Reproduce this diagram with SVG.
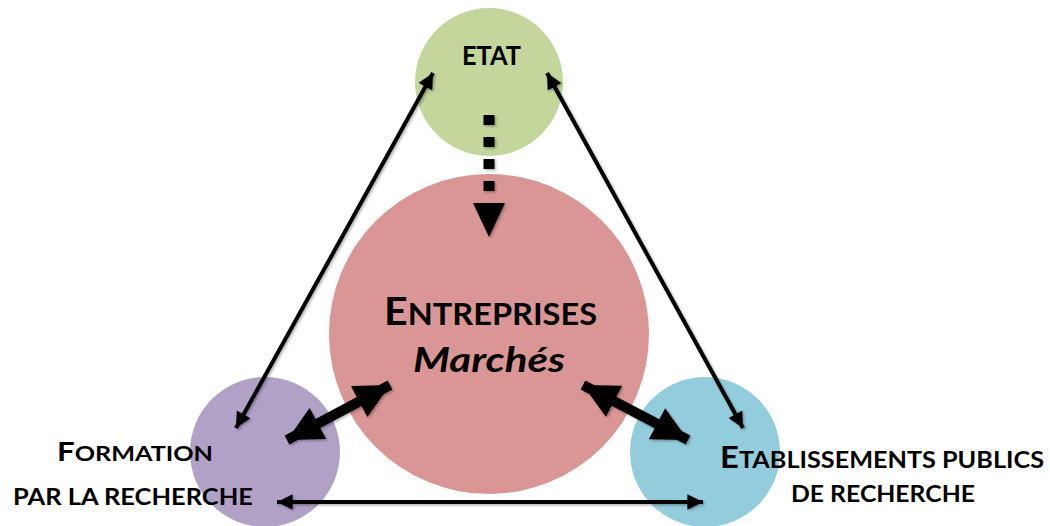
<svg xmlns="http://www.w3.org/2000/svg" width="1050" height="526" viewBox="0 0 1050 526">
<defs>
<style>
.t{font-family:Lato,"Open Sans","Liberation Sans",sans-serif;font-weight:bold;fill:#000}
.thin{stroke:#000;stroke-width:4;fill:none;marker-start:url(#ah);marker-end:url(#ah)}
.thick{stroke:#000;stroke-width:10;fill:none;marker-start:url(#ahb);marker-end:url(#ahb)}
</style>
<marker id="ah" viewBox="0 0 10 10" refX="10" refY="5" markerWidth="5" markerHeight="3.9" orient="auto-start-reverse" markerUnits="strokeWidth">
<path d="M0,0 L10,5 L0,10 z" fill="#000"/>
</marker>
<marker id="ahb" viewBox="0 0 10 10" refX="10" refY="5" markerWidth="3.6" markerHeight="3.5" orient="auto-start-reverse" markerUnits="strokeWidth">
<path d="M0,0 L10,5 L0,10 z" fill="#000"/>
</marker>
<filter id="sh" x="-20%" y="-20%" width="140%" height="140%">
<feDropShadow dx="1.5" dy="1.5" stdDeviation="1.2" flood-color="#000" flood-opacity="0.3"/>
</filter>
</defs>
<rect width="1050" height="526" fill="#fff"/>
<g id="etat">
<circle cx="489" cy="82" r="74" fill="#c3d69b"/>
<text class="t" x="462" y="65" font-size="26" textLength="59" lengthAdjust="spacingAndGlyphs">ETAT</text>
</g>
<g id="entreprises">
<circle cx="489" cy="334" r="160" fill="#d99694"/>
<text class="t" x="384" y="325" font-size="30" textLength="213" lengthAdjust="spacingAndGlyphs"><tspan font-size="38">E</tspan>NTREPRISES</text>
<text class="t" x="413" y="372" font-size="35" font-style="italic" textLength="152" lengthAdjust="spacingAndGlyphs">Marchés</text>
</g>
<g id="formation">
<circle cx="265" cy="452" r="75" fill="#b2a1c7"/>
<text class="t" x="57" y="461" font-size="21" textLength="156" lengthAdjust="spacingAndGlyphs"><tspan font-size="26">F</tspan>ORMATION</text>
<text class="t" x="13" y="505" font-size="23" textLength="240" lengthAdjust="spacingAndGlyphs">PAR LA RECHERCHE</text>
</g>
<g id="etablissements">
<circle cx="705" cy="452" r="75" fill="#93cddd"/>
<text class="t" x="720" y="468" font-size="23" textLength="324" lengthAdjust="spacingAndGlyphs"><tspan font-size="30">E</tspan>TABLISSEMENTS PUBLICS</text>
<text class="t" x="791" y="502" font-size="23" textLength="184" lengthAdjust="spacingAndGlyphs">DE RECHERCHE</text>
</g>
<g id="connectors" filter="url(#sh)">
<path class="thin" d="M433,73 L236,428"/>
<path class="thin" d="M547,73 L743,428"/>
<path class="thin" d="M277,502 L703,502"/>
<path class="thick" d="M390,385 L287,440"/>
<path class="thick" d="M583,385 L688,440"/>
<path d="M489,115 L489,200" stroke="#000" stroke-width="11" stroke-dasharray="10 12" fill="none"/>
<path d="M473,203 L505,203 L489,237 z" fill="#000"/>
</g>
</svg>
